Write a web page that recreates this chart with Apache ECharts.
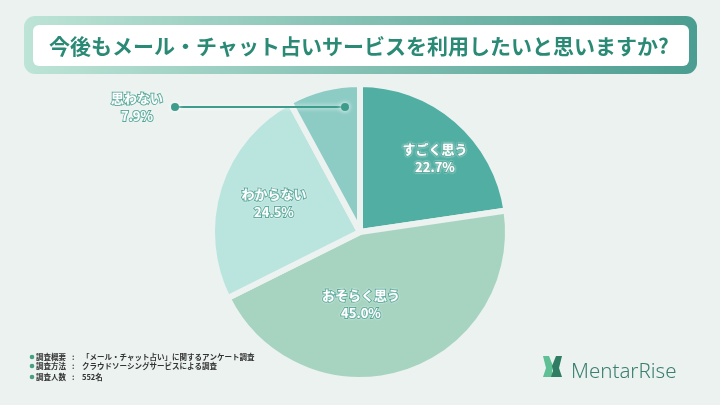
<!DOCTYPE html>
<html><head><meta charset="utf-8">
<script src="https://cdn.jsdelivr.net/npm/echarts@6/dist/echarts.min.js"></script>
<style>html,body{margin:0;padding:0;background:#ebf2f0;}#c{width:720px;height:405px;}</style>
</head><body><div id="c"></div>
<script>
const TITLE = '今後もメール・チャット占いサービスを利用したいと思いますか?';
const categories = ['すごく思う', 'おそらく思う', 'わからない', '思わない'];
const values = [22.7, 45.0, 24.5, 7.9];
const footerKeys = ['調査概要', '調査方法', '調査人数'];
const footerValues = ['「メール・チャット占い」に関するアンケート調査', 'クラウドソーシングサービスによる調査', '552名'];

const colors = ['#50aea3', '#a7d4c1', '#bae4de', '#8dcbc5'];
const BG = '#ebf2f0';
const CX = 360, CY = 232, R = 148;
const FONT = '"Noto Sans CJK JP", sans-serif';
// label anchor positions (layout only)
const LABEL_POS = [[435, 158], [361, 304], [274, 203], [137, 107]];
const LINE_START = [345, 107], LINE_END = [175, 107];

const chart = echarts.init(document.getElementById('c'));

const graphic = [
  { type: 'rect', shape: { x: 24, y: 16, width: 673, height: 58, r: 11 },
    style: { fill: new echarts.graphic.LinearGradient(0, 0, 1, 0, [
      { offset: 0, color: '#bde4d6' }, { offset: 1, color: '#4a9d90' }]) } },
  { type: 'rect', shape: { x: 33, y: 25, width: 656, height: 41, r: 6 }, style: { fill: '#ffffff' } },
  { type: 'text', x: 359, y: 46, style: { text: TITLE, font: 'bold 21px ' + FONT, fill: '#2b8a76', align: 'center', verticalAlign: 'middle' } },
  // label connector for the small slice
  { type: 'polyline', shape: { points: [LINE_START, LINE_END] }, style: { stroke: '#3d9c8c', lineWidth: 2, shadowColor: 'rgba(255,255,255,0.95)', shadowBlur: 5 }, z: 100 },
  { type: 'circle', shape: { cx: LINE_START[0], cy: LINE_START[1], r: 4 }, style: { fill: '#3d9c8c', shadowColor: '#ffffff', shadowBlur: 5 }, z: 101 },
  { type: 'circle', shape: { cx: LINE_END[0], cy: LINE_END[1], r: 4 }, style: { fill: '#3d9c8c', shadowColor: '#ffffff', shadowBlur: 5 }, z: 101 }
];
footerKeys.forEach((k, i) => {
  const y = [357, 366, 377][i];
  graphic.push({ type: 'circle', shape: { cx: 32, cy: y, r: 2.3 }, style: { fill: '#4a9e80' } });
  graphic.push({ type: 'text', x: 36, y: y, style: { text: k, font: 'bold 7.5px ' + FONT, fill: '#333', verticalAlign: 'middle' } });
  graphic.push({ type: 'text', x: 72, y: y, style: { text: ':', font: 'bold 7.5px ' + FONT, fill: '#333', verticalAlign: 'middle' } });
  graphic.push({ type: 'text', x: 82, y: y, style: { text: footerValues[i], font: 'bold 7.5px ' + FONT, fill: '#333', verticalAlign: 'middle' } });
});
// logo icon
graphic.push({ type: 'polygon', shape: { points: [[543, 356], [549, 356], [553, 366], [552, 371], [554, 377], [543, 377], [546, 368]] }, style: { fill: '#5fbf95' } });
graphic.push({ type: 'polygon', shape: { points: [[556, 356], [562, 356], [559, 368], [562, 377], [551, 377], [553, 371], [552, 366]] }, style: { fill: '#2f7d63' } });
graphic.push({ type: 'text', x: 571, y: 372, style: { text: 'MentarRise', font: '300 20.5px "Noto Sans", sans-serif', fill: '#3b7f6e', verticalAlign: 'middle' } });

const labelStyle = {
  color: '#ffffff', fontFamily: FONT, fontSize: 13, fontWeight: 'bold', lineHeight: 18,
  textBorderColor: '#46a090', textBorderWidth: 2,
  textShadowColor: 'rgba(255,255,255,0.7)', textShadowBlur: 2
};

chart.setOption({
  backgroundColor: BG,
  animation: false,
  graphic: graphic,
  series: [{
    type: 'pie',
    center: [CX, CY],
    radius: [0, R],
    startAngle: 90,
    clockwise: true,
    silent: true,
    data: categories.map((c, i) => ({
      name: c, value: values[i],
      itemStyle: { color: colors[i] }
    })),
    itemStyle: { borderColor: BG, borderWidth: 6 },
    label: Object.assign({ show: true, position: 'inside', formatter: p => p.name + '\n' + p.value.toFixed(1) + '%' }, labelStyle),
    labelLine: { show: false },
    labelLayout: function (params) {
      const p = LABEL_POS[params.dataIndex];
      return { x: p[0], y: p[1], align: 'center', verticalAlign: 'middle' };
    }
  }]
});
</script>
</body></html>
